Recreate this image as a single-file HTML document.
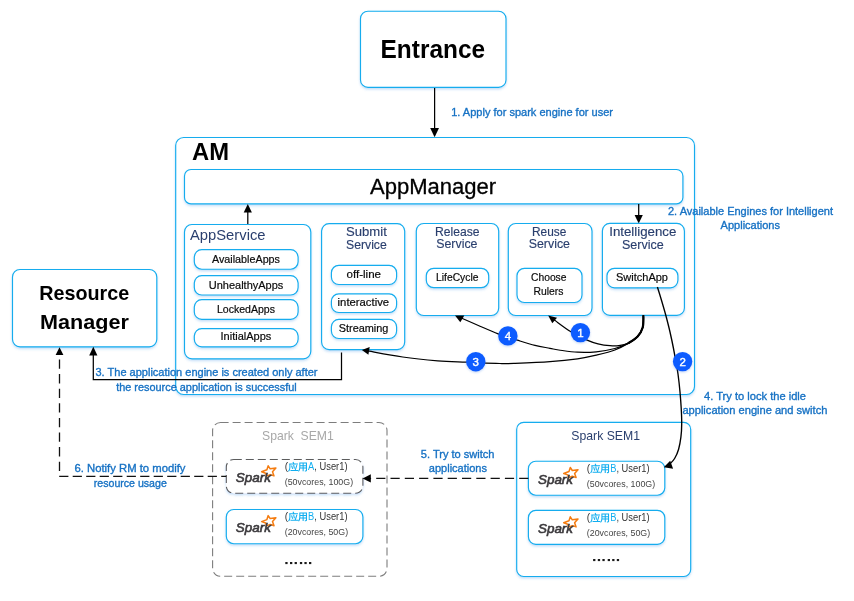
<!DOCTYPE html>
<html>
<head>
<meta charset="utf-8">
<title>AM</title>
<style>
html,body{margin:0;padding:0;background:#fff;}
body{width:854px;height:601px;overflow:hidden;font-family:"Liberation Sans",sans-serif;}
svg{display:block;position:absolute;left:0;top:0;will-change:transform;}
text{font-family:"Liberation Sans",sans-serif;}
.bx{fill:#fff;stroke:#12acee;stroke-width:1.15;}
.pl{fill:#fff;stroke:#12acee;stroke-width:1.15;}
.lb{fill:#1772c4;font-size:11px;stroke:#1772c4;stroke-width:0.35;}
.tt{fill:#2a3f6e;font-size:13px;stroke:#2a3f6e;stroke-width:0.15;}
.pt{fill:#0a0a0a;font-size:11.5px;stroke:#0a0a0a;stroke-width:0.2;}
.bk{stroke:#000;stroke-width:1.25;fill:none;}
.ds{stroke:#111;stroke-width:1.3;fill:none;stroke-dasharray:9 3.3;}
.gd{stroke:#6e6e6e;stroke-width:1.1;fill:#fff;stroke-dasharray:8 4;}
.ah{fill:#000;stroke:none;}
.cn{fill:#fff;font-size:11.5px;text-anchor:middle;stroke:#fff;stroke-width:0.4;}
.s1{fill:#333;font-size:10px;}
.s2{fill:#444;font-size:9px;}
.cy{fill:#10aef0;}
.sp{fill:#3b393c;font-size:15px;font-style:italic;}
</style>
</head>
<body>
<svg width="854" height="601" viewBox="0 0 854 601">
<defs>
<filter id="sh" x="-10%" y="-20%" width="120%" height="150%">
<feDropShadow dx="0" dy="1.5" stdDeviation="1.3" flood-color="#3a8fe6" flood-opacity="0.30"/>
</filter>
<filter id="sh2" x="-30%" y="-30%" width="160%" height="170%">
<feDropShadow dx="0" dy="1" stdDeviation="1" flood-color="#2a6ee0" flood-opacity="0.30"/>
</filter>
<g id="logo">
<path d="M41.9,6.3 L43.9,9.3 L49.6,8.5 L46.2,12.3 L47.7,16.4 L43.9,15.1 L40.3,16.6 L39.4,13.7 L35.3,12.3 L40.6,10.3 Z" fill="#fff" stroke="#f57c10" stroke-width="1.5" stroke-linejoin="round"/>
<text x="9.5" y="22.7" font-size="13.2" font-style="italic" fill="#3b393c" stroke="#3b393c" stroke-width="0.6" textLength="35.2" lengthAdjust="spacingAndGlyphs">Spark</text>
<text x="58.4" y="10.6" font-size="10" fill="#333">(</text>
<use href="#yy" transform="translate(62.3,2.8) scale(0.92,0.88)"/>
</g>
<g id="yy" fill="none" stroke="#10aef0" stroke-width="1.15" stroke-linecap="square">
<!-- 应 -->
<path d="M5,0.2 L5.6,1.4 M1.2,2 L9.6,2 M1.4,2 L1.4,6 Q1.3,8.6 0.2,9.8 M3.4,4.2 L4.2,7 M5.6,3.6 L6.2,6.6 M8.8,3.8 L7.4,8.4 M2.6,9.3 L9.8,9.3"/>
<!-- 用 -->
<path d="M12.2,0.9 L19.4,0.9 L19.4,9.2 Q19.4,9.9 18.2,9.8 M12.2,0.9 L12.2,6 Q12.1,8.6 11,9.9 M12.2,3.8 L19.4,3.8 M12.2,6.6 L19.4,6.6 M15.8,0.9 L15.8,9.6"/>
</g>
<g id="dots" fill="#1a1a1a"><rect x="0" y="0" width="2.3" height="2.1"/><rect x="4.7" y="0" width="2.3" height="2.1"/><rect x="9.3" y="0" width="2.3" height="2.1"/><rect x="14.6" y="0" width="2.3" height="2.1"/><rect x="19.1" y="0" width="2.3" height="2.1"/><rect x="23.7" y="0" width="2.3" height="2.1"/></g>
</defs>

<!-- Entrance -->
<rect class="bx" x="360.5" y="11.2" width="145.5" height="76.2" rx="7.5" filter="url(#sh)"/>
<text x="432.8" y="58" font-size="25" font-weight="bold" text-anchor="middle" textLength="104.5" lengthAdjust="spacingAndGlyphs" fill="#000">Entrance</text>
<path class="bk" d="M434.6,88 L434.6,130"/>
<path class="ah" d="M434.6,137.2 L430.2,128 L439,128 Z"/>
<text class="lb" x="451.2" y="115.6" textLength="161.8" lengthAdjust="spacingAndGlyphs">1. Apply for spark engine for user</text>

<!-- AM container -->
<rect class="bx" x="175.7" y="137.5" width="518.8" height="257" rx="8" filter="url(#sh)"/>
<text x="192" y="160" font-size="23" font-weight="bold" textLength="37" lengthAdjust="spacingAndGlyphs" fill="#000">AM</text>

<!-- AppManager -->
<rect class="bx" x="184.5" y="169.5" width="498.4" height="34.4" rx="6.5" filter="url(#sh)"/>
<text x="370" y="193.8" font-size="22" textLength="126.2" lengthAdjust="spacingAndGlyphs" fill="#000" stroke="#000" stroke-width="0.3">AppManager</text>

<!-- arrows AppService->AppManager, AppManager->Intelligence -->
<path class="bk" d="M247.8,224.5 L247.8,211"/>
<path class="ah" d="M247.8,204 L243.7,212.4 L251.9,212.4 Z"/>
<path class="bk" d="M638.7,204 L638.7,216"/>
<path class="ah" d="M638.7,223.4 L634.6,215 L642.8,215 Z"/>

<!-- AppService -->
<rect class="bx" x="184.5" y="224.5" width="126.3" height="134.3" rx="7.5" filter="url(#sh)"/>
<text x="190" y="240.2" font-size="15.5" fill="#2a3f6e" textLength="75.5" lengthAdjust="spacingAndGlyphs">AppService</text>
<rect class="pl" x="194.3" y="249.6" width="103.8" height="19.6" rx="7.5" filter="url(#sh)"/>
<text class="pt" x="212" y="262.6" textLength="68" lengthAdjust="spacingAndGlyphs">AvailableApps</text>
<rect class="pl" x="194.3" y="275.6" width="103.8" height="19.4" rx="7.5" filter="url(#sh)"/>
<text class="pt" x="208.8" y="288.8" textLength="74.5" lengthAdjust="spacingAndGlyphs">UnhealthyApps</text>
<rect class="pl" x="194.3" y="299.6" width="103.8" height="19.8" rx="7.5" filter="url(#sh)"/>
<text class="pt" x="217" y="313" textLength="58" lengthAdjust="spacingAndGlyphs">LockedApps</text>
<rect class="pl" x="194.3" y="328.6" width="103.8" height="18.2" rx="7.5" filter="url(#sh)"/>
<text class="pt" x="220.5" y="340" textLength="50.8" lengthAdjust="spacingAndGlyphs">InitialApps</text>

<!-- Submit Service -->
<rect class="bx" x="321.6" y="223.6" width="83.1" height="126" rx="7.5" filter="url(#sh)"/>
<text class="tt" x="346" y="236.4" textLength="40.8" lengthAdjust="spacingAndGlyphs">Submit</text>
<text class="tt" x="346" y="249.3" textLength="40.8" lengthAdjust="spacingAndGlyphs">Service</text>
<rect class="pl" x="331.4" y="265.3" width="65.2" height="19.2" rx="7.5" filter="url(#sh)"/>
<text class="pt" x="346.5" y="278" textLength="34.5" lengthAdjust="spacingAndGlyphs">off-line</text>
<rect class="pl" x="331.4" y="293.8" width="65.2" height="18.7" rx="7.5" filter="url(#sh)"/>
<text class="pt" x="337.6" y="305.9" textLength="51.5" lengthAdjust="spacingAndGlyphs">interactive</text>
<rect class="pl" x="331.4" y="319.4" width="65.2" height="19.1" rx="7.5" filter="url(#sh)"/>
<text class="pt" x="338.8" y="331.5" textLength="49.6" lengthAdjust="spacingAndGlyphs">Streaming</text>

<!-- Release Service -->
<rect class="bx" x="416.3" y="223.5" width="82.4" height="92" rx="7.5" filter="url(#sh)"/>
<text class="tt" x="435" y="235.6" textLength="44.5" lengthAdjust="spacingAndGlyphs">Release</text>
<text class="tt" x="436.2" y="248.1" textLength="41.3" lengthAdjust="spacingAndGlyphs">Service</text>
<rect class="pl" x="426.3" y="268.3" width="62.4" height="19.4" rx="7.5" filter="url(#sh)"/>
<text class="pt" x="436" y="281" textLength="42.5" lengthAdjust="spacingAndGlyphs">LifeCycle</text>

<!-- Reuse Service -->
<rect class="bx" x="508.3" y="223.5" width="83.7" height="92" rx="7.5" filter="url(#sh)"/>
<text class="tt" x="532" y="235.6" textLength="34.3" lengthAdjust="spacingAndGlyphs">Reuse</text>
<text class="tt" x="528.7" y="248.1" textLength="41.3" lengthAdjust="spacingAndGlyphs">Service</text>
<rect class="pl" x="517" y="268.3" width="65" height="34.2" rx="7.5" filter="url(#sh)"/>
<text class="pt" x="531" y="281" textLength="35.5" lengthAdjust="spacingAndGlyphs">Choose</text>
<text class="pt" x="533.5" y="295" textLength="30" lengthAdjust="spacingAndGlyphs">Rulers</text>

<!-- Intelligence Service -->
<rect class="bx" x="602.4" y="223.4" width="82" height="92" rx="7.5" filter="url(#sh)"/>
<text class="tt" x="609.2" y="236.4" textLength="67.2" lengthAdjust="spacingAndGlyphs">Intelligence</text>
<text class="tt" x="621.9" y="248.8" textLength="41.8" lengthAdjust="spacingAndGlyphs">Service</text>
<rect class="pl" x="607" y="268.3" width="70.9" height="19.5" rx="7.5" filter="url(#sh)"/>
<text class="pt" x="616" y="281" textLength="52" lengthAdjust="spacingAndGlyphs">SwitchApp</text>
<text class="lb" x="668" y="214.8" textLength="165" lengthAdjust="spacingAndGlyphs">2. Available Engines for Intelligent</text>
<text class="lb" x="720.6" y="228.7" textLength="59.4" lengthAdjust="spacingAndGlyphs">Applications</text>

<!-- Resource Manager -->
<rect class="bx" x="12.5" y="269.5" width="144.3" height="77.3" rx="7.5" filter="url(#sh)"/>
<text x="39.2" y="300" font-size="20.5" font-weight="bold" textLength="90" lengthAdjust="spacingAndGlyphs" fill="#000">Resource</text>
<text x="40" y="329" font-size="20.5" font-weight="bold" textLength="88.8" lengthAdjust="spacingAndGlyphs" fill="#000">Manager</text>

<!-- curves from Intelligence -->
<path d="M643.4,315.3 C643.4,319.3 643.7,323.9 642.7,327.5 C641.7,331.1 639.9,334.2 637.4,336.8 C634.9,339.4 631.1,341.9 628.0,343.4 C624.9,344.9 621.7,345.3 618.7,345.7 C615.7,346.1 613.5,346.0 610.0,345.7 C606.5,345.4 601.8,344.7 598.0,343.8 C594.2,342.9 591.6,342.1 587.1,340.1 C582.6,338.1 576.4,335.1 571.0,331.8 C565.6,328.5 558.0,322.6 554.8,320.3 C551.6,318.0 552.5,318.6 552.0,318.2" fill="none" stroke="#000" stroke-width="1.25"/>
<path d="M643.4,315.3 C643.4,319.3 643.7,323.9 642.7,327.5 C641.7,331.1 639.9,334.2 637.4,336.8 C634.9,339.4 631.8,341.4 628.0,343.4 C624.2,345.3 620.2,347.1 614.9,348.5 C609.6,349.9 602.4,351.2 596.2,351.8 C590.0,352.4 583.8,352.5 577.5,352.2 C571.2,351.9 563.3,350.6 558.7,350.0 C554.1,349.4 554.0,349.1 550.0,348.3 C546.0,347.5 540.5,346.8 535.0,345.4 C529.5,344.0 523.3,342.0 517.2,340.1 C511.1,338.2 504.4,336.1 498.2,333.8 C492.0,331.5 486.0,328.8 480.0,326.2 C474.0,323.6 465.7,319.9 462.4,318.5 C459.1,317.1 460.4,317.7 460.0,317.5" fill="none" stroke="#000" stroke-width="1.25"/>
<path d="M643.4,315.3 C643.4,319.3 643.7,323.9 642.7,327.5 C641.7,331.1 639.9,334.2 637.4,336.8 C634.9,339.4 631.8,341.2 628.0,343.4 C624.2,345.6 620.2,348.0 614.9,350.0 C609.6,352.0 602.4,353.7 596.2,355.2 C590.0,356.7 585.2,357.7 577.5,358.8 C569.8,359.9 560.6,360.9 550.0,361.7 C539.4,362.5 522.2,363.1 513.9,363.4 C505.6,363.7 504.7,363.6 500.0,363.5 C495.3,363.4 491.3,363.3 485.6,363.1 C479.9,362.9 473.9,362.6 465.9,362.2 C457.9,361.8 448.3,361.7 437.8,360.8 C427.3,359.9 414.1,358.6 402.7,357.0 C391.3,355.4 375.4,352.3 369.3,351.2 C363.2,350.1 366.6,350.7 366.0,350.6" fill="none" stroke="#000" stroke-width="1.25"/>
<path d="M643.4,315.3 C643.4,319.3 643.7,323.9 642.7,327.5 C641.7,331.1 639.9,334.2 637.4,336.8 C634.9,339.4 629.6,342.3 628.0,343.4" fill="none" stroke="#000" stroke-width="2.2"/>
<path class="ah" d="M548.2,315.4 L557,317.8 L552.3,323.2 Z"/>
<path class="ah" d="M455,315.4 L464.3,315.4 L460.3,322.2 Z"/>
<path class="ah" d="M361.9,349.9 L369.7,346.9 L368.4,354.7 Z"/>

<!-- circles -->
<circle cx="580.4" cy="332.6" r="9.7" fill="#0b5cff" filter="url(#sh2)"/>
<text class="cn" x="580.4" y="336.7">1</text>
<circle cx="475.8" cy="361.7" r="9.7" fill="#0b5cff" filter="url(#sh2)"/>
<text class="cn" x="475.8" y="365.8">3</text>
<circle cx="507.9" cy="335.9" r="9.7" fill="#0b5cff" filter="url(#sh2)"/>
<text class="cn" x="507.9" y="340">4</text>

<!-- line 3 to RM -->
<path class="bk" d="M341.5,352.5 L341.5,379.5 L93.3,379.5 L93.3,354"/>
<path class="ah" d="M93.3,346.8 L89.2,355.4 L97.4,355.4 Z"/>
<text class="lb" x="95.5" y="376.2" textLength="222" lengthAdjust="spacingAndGlyphs">3. The application engine is created only after</text>
<text class="lb" x="116.2" y="391.2" textLength="180.5" lengthAdjust="spacingAndGlyphs">the resource application is successful</text>

<!-- text 4 -->
<text class="lb" x="704" y="399.6" textLength="102" lengthAdjust="spacingAndGlyphs">4. Try to lock the idle</text>
<text class="lb" x="682.4" y="414.2" textLength="145" lengthAdjust="spacingAndGlyphs">application engine and switch</text>

<!-- left Spark SEM1 dashed -->
<rect class="gd" x="212.6" y="422.5" width="174.4" height="153.8" rx="8" style="stroke:#7d7d7d"/>
<text x="262" y="440" font-size="13.5" fill="#a8a8a8" textLength="71.8" lengthAdjust="spacingAndGlyphs" xml:space="preserve">Spark  SEM1</text>
<rect class="gd" x="226.3" y="459.5" width="136.6" height="33.8" rx="7.5" filter="url(#sh)" style="stroke:#5c5c5c"/>
<rect class="bx" x="226.3" y="509.5" width="136.6" height="34.2" rx="7.5" filter="url(#sh)"/>


<g transform="translate(226.3,459.5)"><use href="#logo"/><text class="s1" x="81.8" y="10.6" textLength="39.4" lengthAdjust="spacingAndGlyphs"><tspan class="cy">A</tspan>, User1)</text><text class="s2" x="58.4" y="25.9" textLength="68.4" lengthAdjust="spacingAndGlyphs">(50vcores, 100G)</text></g>
<g transform="translate(226.3,509.3)"><use href="#logo"/><text class="s1" x="81.8" y="10.6" textLength="39.4" lengthAdjust="spacingAndGlyphs"><tspan class="cy">B</tspan>, User1)</text><text class="s2" x="58.4" y="25.9" textLength="63.4" lengthAdjust="spacingAndGlyphs">(20vcores, 50G)</text></g>
<use href="#dots" x="285.3" y="562"/>

<!-- right Spark SEM1 -->
<rect class="bx" x="516.7" y="422.4" width="174" height="154.1" rx="7" filter="url(#sh)"/>
<text x="571.3" y="439.6" font-size="13.5" fill="#2a3f6e" textLength="68.7" lengthAdjust="spacingAndGlyphs">Spark SEM1</text>
<rect class="bx" x="528.4" y="461.2" width="136.4" height="34" rx="7.5" filter="url(#sh)"/>
<rect class="bx" x="528.4" y="510.3" width="136.4" height="34" rx="7.5" filter="url(#sh)"/>
<g transform="translate(528.4,461.2)"><use href="#logo"/><text class="s1" x="81.8" y="10.6" textLength="39.4" lengthAdjust="spacingAndGlyphs"><tspan class="cy">B</tspan>, User1)</text><text class="s2" x="58.4" y="25.9" textLength="68.4" lengthAdjust="spacingAndGlyphs">(50vcores, 100G)</text></g>
<g transform="translate(528.4,510.5)"><use href="#logo"/><text class="s1" x="81.8" y="10.6" textLength="39.4" lengthAdjust="spacingAndGlyphs"><tspan class="cy">B</tspan>, User1)</text><text class="s2" x="58.4" y="25.9" textLength="63.4" lengthAdjust="spacingAndGlyphs">(20vcores, 50G)</text></g>
<use href="#dots" x="593.1" y="559"/>

<!-- curve 2 -->
<path d="M657.4,287.0 C658.2,289.5 660.6,297.2 662.0,302.0 C663.4,306.8 664.7,311.0 666.0,316.0 C667.3,321.0 668.8,326.7 670.0,332.0 C671.2,337.3 672.5,343.3 673.4,348.0 C674.3,352.7 674.8,355.7 675.6,360.0 C676.4,364.3 677.3,368.7 678.0,374.0 C678.7,379.3 679.5,386.3 680.0,392.0 C680.5,397.7 680.9,402.7 681.2,408.0 C681.5,413.3 681.8,419.1 681.7,424.0 C681.7,428.9 681.4,433.0 680.9,437.2 C680.4,441.4 679.6,445.6 678.6,449.2 C677.6,452.8 676.0,456.1 674.6,458.5 C673.2,460.9 671.2,462.7 670.0,463.9 C668.8,465.1 667.9,465.2 667.5,465.5" fill="none" stroke="#000" stroke-width="1.35"/>
<path class="ah" d="M663.8,467.3 L670.2,460.7 L673.1,468.8 Z"/>
<circle cx="682.6" cy="361.6" r="9.7" fill="#0b5cff" filter="url(#sh2)"/>
<text class="cn" x="682.6" y="365.7">2</text>
<!-- dashed connectors -->
<path class="ds" d="M528.4,478.4 L370,478.4" style="stroke-dasharray:9.2 5.1"/>
<path class="ah" d="M362.6,478.4 L370.8,474.3 L370.8,482.5 Z"/>
<text class="lb" x="420.8" y="458.3" textLength="73.7" lengthAdjust="spacingAndGlyphs">5. Try to switch</text>
<text class="lb" x="428.8" y="471.8" textLength="58.2" lengthAdjust="spacingAndGlyphs">applications</text>
<path class="ds" d="M59.2,476.4 L226.3,476.4" style="stroke-dasharray:9.2 4.3"/>
<path class="ds" d="M59.5,471 L59.5,355" style="stroke-dasharray:9.3 5.3"/>
<path class="ah" d="M59.5,347.2 L55.6,355 L63.4,355 Z"/>
<text class="lb" x="74.5" y="472" textLength="111" lengthAdjust="spacingAndGlyphs">6. Notify RM to modify</text>
<text class="lb" x="93.8" y="487" textLength="73" lengthAdjust="spacingAndGlyphs">resource usage</text>
</svg>
</body>
</html>
